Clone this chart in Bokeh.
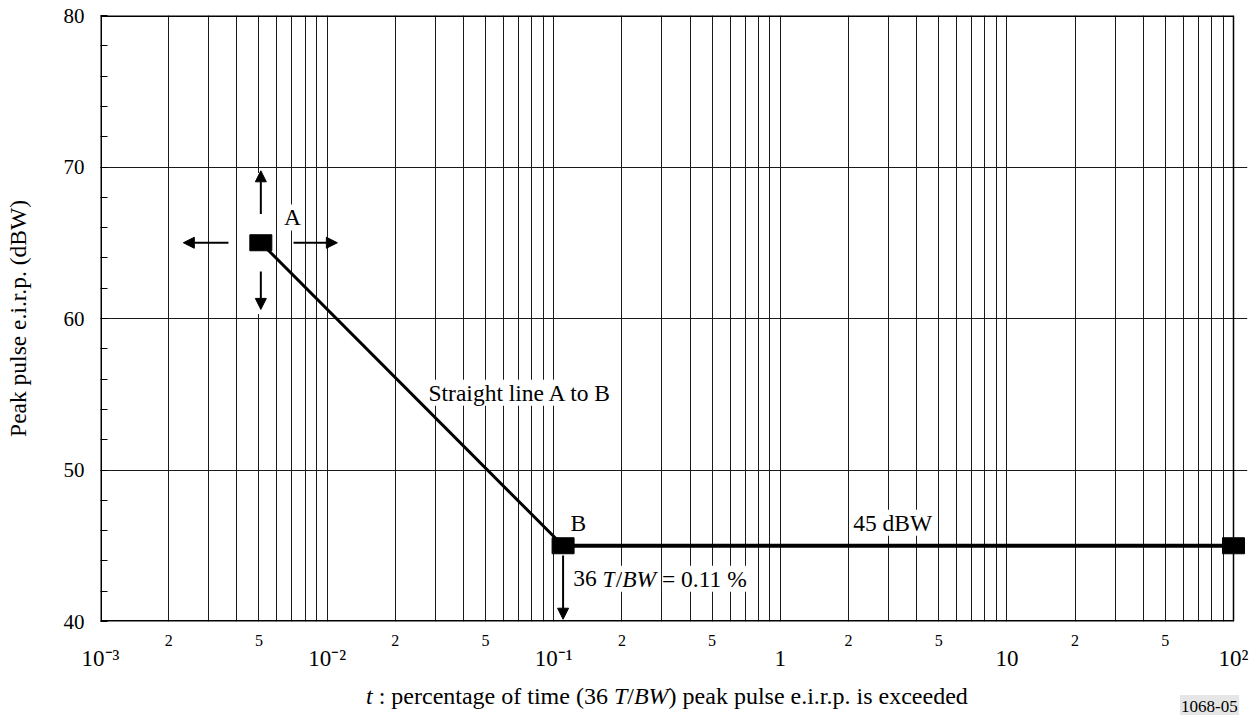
from bokeh.plotting import figure
from bokeh.layouts import column
from bokeh.models import (LogAxis, FixedTicker, SingleIntervalTicker, CustomJSTickFormatter,
                          Label, Arrow, NormalHead, ColumnDataSource, Div)
from bokeh.embed import file_html
from bokeh.resources import INLINE

# ---------------- data ----------------
curve_t = [0.0051, 0.11, 100.0]          # percentage of time (%)
curve_eirp = [65.0, 45.0, 45.0]          # peak pulse e.i.r.p. (dBW)

# direction arrows around A (up, down, left, right) and below B
arrow_t0 = [0.0051, 0.0051, 0.00367, 0.00711, 0.11]
arrow_e0 = [66.9, 63.1, 65.0, 65.0, 44.35]
arrow_t1 = [0.0051, 0.0051, 0.00232, 0.0111, 0.11]
arrow_e1 = [69.75, 60.6, 65.0, 65.0, 40.15]

decades = [1e-3, 1e-2, 1e-1, 1.0, 10.0, 100.0]
decade_labels = ["10⁻³", "10⁻²", "10⁻¹", "1", "10", "10²"]
sub_mult = [2, 5]
sub_labels = ["2", "5"]
y_lo, y_hi = 40, 80
y_ticks_interval = 10

FONT = "Liberation Serif"

sub_ticks = [m * d for d in decades[:-1] for m in sub_mult]
sub_tick_labels = [sub_labels[i] for d in decades[:-1] for i in range(len(sub_mult))]
grid_ticks = [m * d for d in decades[:-1] for m in range(1, 10)] + [decades[-1]]

fmt_code = """
let best = 0;
for (let i = 0; i < tk.length; i++) {
  if (Math.abs(Math.log10(tk[i]) - Math.log10(tick)) <
      Math.abs(Math.log10(tk[best]) - Math.log10(tick))) best = i;
}
return lb[best];
"""

# a small extra room to the right of 10^2 so that the end marker is not clipped
x_pad = 10 ** (14 / 226.6)

p = figure(width=1259, height=679, x_axis_type="log",
           x_range=(decades[0], decades[-1] * x_pad), y_range=(y_lo, y_hi),
           output_backend="svg", toolbar_location=None,
           min_border_left=100, min_border_right=12, min_border_top=15, min_border_bottom=58)
p.background_fill_color = "white"
p.border_fill_color = "white"
p.outline_line_color = None

# x axis 1 : the "2" and "5" labels
xa = p.xaxis[0]
xa.ticker = FixedTicker(ticks=sub_ticks)
xa.formatter = CustomJSTickFormatter(args=dict(tk=sub_ticks, lb=sub_tick_labels), code=fmt_code)
xa.major_label_text_font = FONT
xa.major_label_text_font_size = "16px"
xa.major_label_text_color = "black"
xa.major_label_standoff = 7
xa.major_tick_line_color = None
xa.minor_tick_line_color = None
xa.axis_line_color = None

# x axis 2 : decades
xa2 = LogAxis(ticker=FixedTicker(ticks=decades),
              formatter=CustomJSTickFormatter(args=dict(tk=decades, lb=decade_labels), code=fmt_code))
xa2.major_label_text_font = FONT
xa2.major_label_text_font_size = "23px"
xa2.major_label_text_color = "black"
xa2.major_label_standoff = -9
xa2.major_tick_line_color = None
xa2.minor_tick_line_color = None
xa2.axis_line_color = None
p.add_layout(xa2, "below")

# grids
p.xgrid.ticker = FixedTicker(ticks=grid_ticks)
p.xgrid.grid_line_color = "#1a1a1a"
p.xgrid.grid_line_width = 1
p.ygrid.grid_line_color = "#1a1a1a"
p.ygrid.grid_line_width = 1
p.ygrid.bounds = (decades[0], decades[-1])

# frame border
p.segment(x0=[decades[0], decades[0]], y0=[y_lo, y_hi], x1=[decades[-1], decades[-1]], y1=[y_lo, y_hi],
          line_color="black", line_width=3)
p.segment(x0=[decades[0]], y0=[y_lo], x1=[decades[0]], y1=[y_hi], line_color="black", line_width=3)
p.segment(x0=[decades[-1]], y0=[y_lo], x1=[decades[-1]], y1=[y_hi], line_color="black", line_width=1.5)

# y axis
ya = p.yaxis[0]
ya.ticker = SingleIntervalTicker(interval=y_ticks_interval, num_minor_ticks=5)
ya.major_tick_in = 0
ya.major_tick_out = 0
ya.minor_tick_in = 7
ya.minor_tick_out = 0
ya.minor_tick_line_color = "black"
ya.axis_line_color = None
ya.major_label_text_font = FONT
ya.major_label_text_font_size = "21px"
ya.major_label_text_color = "black"
ya.major_label_standoff = 16
ya.axis_label = "Peak pulse e.i.r.p. (dBW)"
ya.axis_label_text_font = FONT
ya.axis_label_text_font_style = "normal"
ya.axis_label_text_font_size = "23.5px"
ya.axis_label_text_color = "black"
ya.axis_label_standoff = 30

# white clearance behind the vertical arrows at A (from up-arrow tip to down-arrow tip)
p.segment(x0=[arrow_t1[0]], y0=[arrow_e1[0] - 0.15], x1=[arrow_t1[1]], y1=[arrow_e1[1] - 0.3],
          line_color="white", line_width=11)

# curve
p.line(curve_t[:2], curve_eirp[:2], line_width=3, line_color="black")
p.line(curve_t[1:], curve_eirp[1:], line_width=4, line_color="black")
p.rect(x=curve_t, y=curve_eirp, width=22, height=16,
       width_units="screen", height_units="screen", fill_color="black", line_color="black")

# arrows
asrc = ColumnDataSource(dict(x0=arrow_t0, y0=arrow_e0, x1=arrow_t1, y1=arrow_e1))
p.add_layout(Arrow(source=asrc, x_start="x0", y_start="y0", x_end="x1", y_end="y1",
                   line_width=2, line_color="black",
                   end=NormalHead(size=11, fill_color="black", line_color="black")))

LBL = dict(text_font=FONT, text_font_size="23.5px", text_color="black",
           background_fill_color="white", text_baseline="middle")

def add_label(x, y, text, align="left", **kw):
    d = dict(LBL)
    d.update(kw)
    p.add_layout(Label(x=x, y=y, text=text, text_align=align, **d))

add_label(0.00704, 66.67, "A", align="center")
add_label(0.1286, 46.52, "B", align="center")
add_label(0.02802, 55.1, "Straight line A to B")
add_label(2.097, 46.52, "45 dBW")

# "36 T/BW = 0.11 %"
fs = 23.5
pieces = [("36", "normal", 0.0), ("T", "italic", 1.25), ("/", "normal", 1.806),
          ("BW", "italic", 2.084), ("= 0.11 %", "normal", 3.778)]
for txt, st, off in pieces:
    add_label(0.1219, 42.82, txt, text_font_style=st, x_offset=off * fs)

title_html = (
    "<div style=\"position:relative;width:1259px;height:36px;font-family:'Liberation Serif',serif;color:black\">"
    "<span style=\"position:absolute;left:366px;top:0px;font-size:24px;white-space:nowrap\">"
    "<i>t</i> : percentage of time (36 <i>T</i>/<i>BW</i>) peak pulse e.i.r.p. is exceeded</span>"
    "<span style=\"position:absolute;left:1180px;top:16px;font-size:17px;background:#e6e6e6;"
    "padding:0 1px;white-space:nowrap\">1068-05</span></div>"
)
div = Div(text=title_html, width=1259, height=36, margin=0)

layout = column(p, div, spacing=0)
open("out.html", "w").write(file_html(layout, INLINE))
